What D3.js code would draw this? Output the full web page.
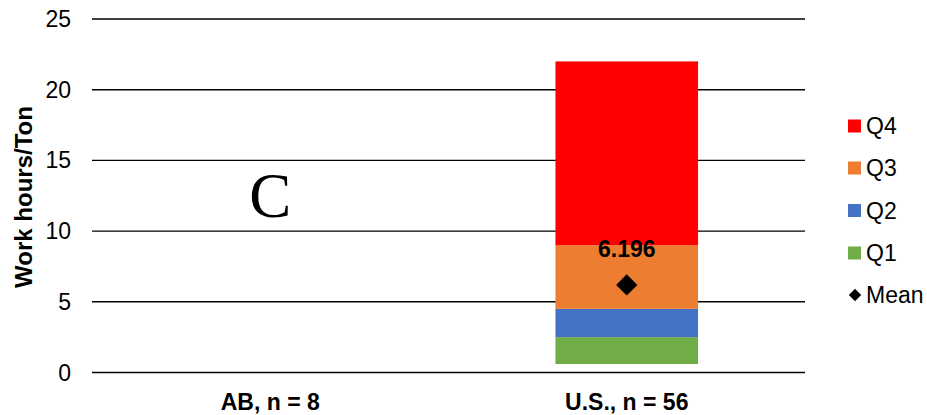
<!DOCTYPE html>
<html><head><meta charset="utf-8">
<script src="https://cdn.jsdelivr.net/npm/d3@7"></script>
<style>body{margin:0;background:#fff}svg{display:block;font-family:Arial,"Liberation Sans",sans-serif}</style>
</head><body><svg id="c" width="927" height="415"></svg>
<script>
const categories = ["AB, n = 8", "U.S., n = 56"];
const seriesNames = ["Q1", "Q2", "Q3", "Q4"];
const colors = ["#70AD47", "#4472C4", "#ED7D31", "#FF0000"];
// per category: base (invisible), then quartile segment heights
const baseVals = [0, 0.6];
const q1Vals = [0, 1.9];
const q2Vals = [0, 2.0];
const q3Vals = [0, 4.5];
const q4Vals = [0, 13.0];
const meanVals = [null, 6.196];
const yTicks = [0, 5, 10, 15, 20, 25];

const svg = d3.select("#c");
const m = {l: 92, r: 122, t: 19, b: 42.5};
const W = 927, H = 415;
const FS = 23;
const x = d3.scaleBand().domain(categories).range([m.l, W - m.r]).paddingInner(0.6).paddingOuter(0.3);
const y = d3.scaleLinear().domain([0, 25]).range([H - m.b, m.t]);

// gridlines
svg.append("g").selectAll("line").data(yTicks).join("line")
  .attr("x1", m.l).attr("x2", W - m.r)
  .attr("y1", d => y(d)).attr("y2", d => y(d))
  .attr("stroke", "#000").attr("stroke-width", 1.4);

// y tick labels
svg.append("g").selectAll("text").data(yTicks).join("text")
  .attr("x", 71).attr("y", d => y(d)).attr("dy", "0.35em")
  .attr("text-anchor", "end").attr("font-size", FS).attr("fill", "#000").text(d => d);

// stacks
const segs = [q1Vals, q2Vals, q3Vals, q4Vals];
categories.forEach((c, i) => {
  let acc = baseVals[i];
  segs.forEach((arr, k) => {
    const v = arr[i];
    if (v > 0) {
      svg.append("rect").attr("x", x(c)).attr("width", x.bandwidth())
        .attr("y", y(acc + v)).attr("height", y(acc) - y(acc + v)).attr("fill", colors[k]);
    }
    acc += v;
  });
});

// mean markers
categories.forEach((c, i) => {
  const mv = meanVals[i];
  if (mv == null) return;
  const cx = x(c) + x.bandwidth() / 2;
  svg.append("path").attr("d", d3.symbol(d3.symbolDiamond2, 288)())
    .attr("transform", `translate(${cx},${y(mv)})`).attr("fill", "#000");
  svg.append("text").attr("x", cx).attr("y", y(mv) - 28).attr("text-anchor", "middle")
    .attr("font-size", FS).attr("font-weight", "bold").attr("fill", "#000").text(mv);
});

// x labels
svg.append("g").selectAll("text").data(categories).join("text")
  .attr("x", d => x(d) + x.bandwidth() / 2).attr("y", 410)
  .attr("text-anchor", "middle").attr("font-size", FS).attr("font-weight", "bold").text(d => d);

// y title
svg.append("text").attr("transform", `translate(32,197) rotate(-90)`)
  .attr("text-anchor", "middle").attr("font-size", 24).attr("font-weight", "bold").text("Work hours/Ton");

// panel letter
svg.append("text").attr("x", x(categories[0]) + x.bandwidth() / 2).attr("y", 217)
  .attr("text-anchor", "middle").attr("font-family", "'Liberation Serif','Times New Roman',serif")
  .attr("font-size", 63).text("C");

// legend
const legItems = ["Q4", "Q3", "Q2", "Q1"];
const legY = [126, 168, 210.5, 253];
legItems.forEach((n, i) => {
  const k = seriesNames.indexOf(n);
  svg.append("rect").attr("x", 848).attr("y", legY[i] - 6.5).attr("width", 13).attr("height", 13).attr("fill", colors[k]);
  svg.append("text").attr("x", 866).attr("y", legY[i]).attr("dy", "0.35em").attr("font-size", FS).text(n);
});
svg.append("path").attr("d", d3.symbol(d3.symbolDiamond2, 98)())
  .attr("transform", "translate(855,295)").attr("fill", "#000");
svg.append("text").attr("x", 866).attr("y", 295).attr("dy", "0.35em").attr("font-size", FS).text("Mean");
</script></body></html>
